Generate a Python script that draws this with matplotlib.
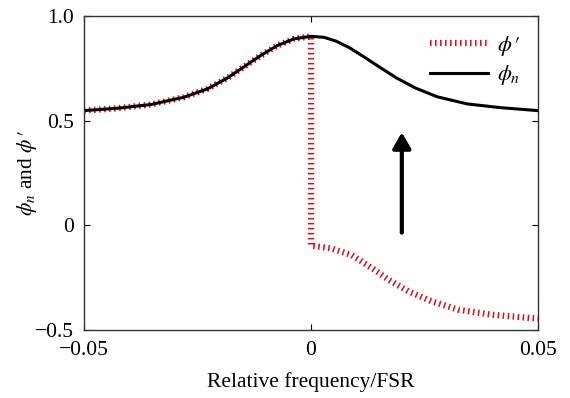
import matplotlib.pyplot as plt

plt.rcParams['font.family'] = 'Liberation Serif'
plt.rcParams['mathtext.fontset'] = 'stix'

# relative frequency (FSR units)
freq = [-0.05, -0.0427, -0.0353, -0.028, -0.0228, -0.0184, -0.0148, -0.0111, -0.0074, -0.0037, 0.0,
        0.0029, 0.0055, 0.0085, 0.012, 0.0155, 0.019, 0.023, 0.0278, 0.0344, 0.0418, 0.05]
phi_n = [0.548, 0.559, 0.577, 0.612, 0.652, 0.704, 0.757, 0.811, 0.859, 0.891, 0.903,
         0.898, 0.880, 0.848, 0.800, 0.750, 0.702, 0.656, 0.614, 0.580, 0.562, 0.548]

# wrapped phase: follows phi_n below zero, drops by one at zero
freq_p = [-0.05, -0.0427, -0.0353, -0.028, -0.0228, -0.0184, -0.0148, -0.0111, -0.0074, -0.0037, 0.0,
          0.0, 0.0046, 0.009, 0.0134, 0.017, 0.0214, 0.0266, 0.0324, 0.0398, 0.05]
phi_p = [0.548, 0.559, 0.577, 0.612, 0.652, 0.704, 0.757, 0.811, 0.859, 0.891, 0.903,
         -0.097, -0.111, -0.143, -0.204, -0.259, -0.315, -0.363, -0.403, -0.427, -0.446]

fig = plt.figure(figsize=(5.7, 3.98), dpi=100)
ax = fig.add_axes([0.1474, 0.1709, 0.7965, 0.7889])

ax.plot(freq_p, phi_p, color='#d3141c', lw=4.5, dashes=(0.25, 0.55),
        dash_capstyle='butt', label=r"$\phi\,\prime$")
ax.plot(freq, phi_n, color='black', lw=2.2, label=r'$\phi_n$')

ax.annotate('', xy=(0.02, 0.444), xytext=(0.02, -0.035),
            arrowprops=dict(arrowstyle='-|>,head_width=0.55,head_length=0.95',
                            color='black', lw=3, shrinkA=0, shrinkB=0))

ax.set_xlim(-0.05, 0.05)
ax.set_ylim(-0.5, 1.0)
ax.set_xticks([-0.05, 0, 0.05])
ax.set_xticklabels(['\u22120.05', '0', '0.05'])
ax.set_yticks([-0.5, 0, 0.5, 1.0])
ax.set_yticklabels(['\u22120.5', '0', '0.5', '1.0'])
ax.tick_params(direction='in', top=True, right=True, length=4, labelsize=15.5)
ax.tick_params(axis='x', pad=8)
ax.tick_params(axis='y', pad=7)
for s in ax.spines.values():
    s.set_color('#333333')
    s.set_linewidth(1.0)

ax.set_xlabel('Relative frequency/FSR', fontsize=15.5, labelpad=9)
ax.set_ylabel(r"$\phi_n$ and $\phi\,\prime$", fontsize=15.5, labelpad=-3)

ax.legend(loc='upper right', frameon=False, fontsize=16, handlelength=2.6,
          handletextpad=0.4, borderaxespad=0.4, labelspacing=0.25)

fig.savefig('out.png', dpi=100)
